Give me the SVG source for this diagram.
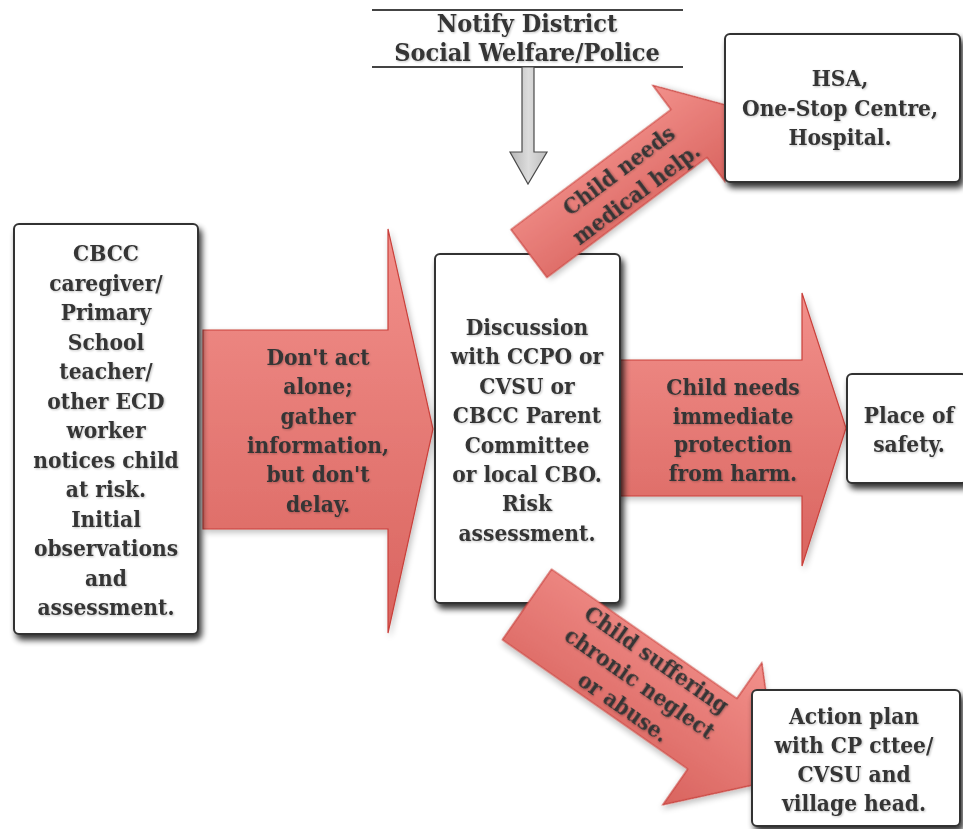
<svg xmlns="http://www.w3.org/2000/svg" width="963" height="829" viewBox="0 0 963 829">
<defs>
<linearGradient id="redGrad" x1="0" y1="0" x2="0" y2="1">
<stop offset="0" stop-color="#f2908b"/>
<stop offset="1" stop-color="#d9645f"/>
</linearGradient>
<linearGradient id="grayGrad" x1="0" y1="0" x2="1" y2="0">
<stop offset="0" stop-color="#b5b5b5"/>
<stop offset="0.5" stop-color="#dcdcdc"/>
<stop offset="1" stop-color="#bdbdbd"/>
</linearGradient>
<filter id="boxShadow" x="-10%" y="-10%" width="130%" height="130%">
<feGaussianBlur in="SourceAlpha" stdDeviation="3"/>
<feOffset dx="3" dy="5" result="b"/>
<feComponentTransfer><feFuncA type="linear" slope="0.8"/></feComponentTransfer>
<feMerge><feMergeNode/><feMergeNode in="SourceGraphic"/></feMerge>
</filter>
<filter id="arrowShadow" x="-10%" y="-10%" width="130%" height="130%">
<feGaussianBlur in="SourceAlpha" stdDeviation="3"/>
<feOffset dx="2" dy="3" result="b"/>
<feComponentTransfer><feFuncA type="linear" slope="0.25"/></feComponentTransfer>
<feMerge><feMergeNode/><feMergeNode in="SourceGraphic"/></feMerge>
</filter>
<filter id="textShadow" x="-5%" y="-5%" width="110%" height="120%">
<feGaussianBlur in="SourceAlpha" stdDeviation="0.8"/>
<feOffset dx="0.8" dy="1" result="b"/>
<feComponentTransfer><feFuncA type="linear" slope="0.25"/></feComponentTransfer>
<feMerge><feMergeNode/><feMergeNode in="SourceGraphic"/></feMerge>
</filter>
</defs>
<style>
.box{fill:#ffffff;stroke:#333333;stroke-width:2;filter:url(#boxShadow)}
.red{fill:url(#redGrad);stroke:#c9403b;stroke-width:1.2;filter:url(#arrowShadow)}
.gray{fill:url(#grayGrad);stroke:#4a4a4a;stroke-width:1.2}
.rule{stroke:#444444;stroke-width:2}
text{font-family:"DejaVu Serif Condensed","DejaVu Serif","Liberation Serif",serif;font-weight:bold;font-size:22.5px;fill:#363636;text-anchor:middle;filter:url(#textShadow)}
.big{font-size:25px}
</style>

<g id="notify">
<line class="rule" x1="372" y1="10" x2="683" y2="10"/>
<line class="rule" x1="372" y1="67" x2="683" y2="67"/>
<text class="big" x="527" y="32">Notify District</text>
<text class="big" x="527" y="61">Social Welfare/Police</text>
</g>

<g id="connectors">
<polygon id="arrow-notify" class="gray" points="522,67 534,67 534,152 547,152 528,184 510,152 522,152"/>
<g id="arrow-dontact">
<polygon class="red" points="203,330 388,330 388,229 433,429 388,633 388,529 203,529"/>
<text x="318" y="365">Don't act<tspan x="318" dy="29.3">alone;</tspan><tspan x="318" dy="29.3">gather</tspan><tspan x="318" dy="29.3">information,</tspan><tspan x="318" dy="29.3">but don't</tspan><tspan x="318" dy="29.3">delay.</tspan></text>
</g>
<g id="arrow-protection">
<polygon class="red" points="619,360 802,360 802,293 846,428 802,566 802,496 619,496"/>
<text x="733" y="395">Child needs<tspan x="733" dy="28.7">immediate</tspan><tspan x="733" dy="28.7">protection</tspan><tspan x="733" dy="28.7">from harm.</tspan></text>
</g>
</g>

<g id="node-observer">
<rect class="box" x="14" y="224" width="184" height="410" rx="5"/>
<text x="106" y="261">CBCC<tspan x="106" dy="29.5">caregiver/</tspan><tspan x="106" dy="29.5">Primary</tspan><tspan x="106" dy="29.5">School</tspan><tspan x="106" dy="29.5">teacher/</tspan><tspan x="106" dy="29.5">other ECD</tspan><tspan x="106" dy="29.5">worker</tspan><tspan x="106" dy="29.5">notices child</tspan><tspan x="106" dy="29.5">at risk.</tspan><tspan x="106" dy="29.5">Initial</tspan><tspan x="106" dy="29.5">observations</tspan><tspan x="106" dy="29.5">and</tspan><tspan x="106" dy="29.5">assessment.</tspan></text>
</g>

<g id="node-discussion">
<rect class="box" x="435" y="254" width="185" height="349" rx="5"/>
<text x="527" y="335">Discussion<tspan x="527" dy="29.4">with CCPO or</tspan><tspan x="527" dy="29.4">CVSU or</tspan><tspan x="527" dy="29.4">CBCC Parent</tspan><tspan x="527" dy="29.4">Committee</tspan><tspan x="527" dy="29.4">or local CBO.</tspan><tspan x="527" dy="29.4">Risk</tspan><tspan x="527" dy="29.4">assessment.</tspan></text>
</g>

<g id="arrow-medical">
<g transform="translate(529,253.5) rotate(-36.87)">
<polygon class="red" points="0,-30 200,-30 200,-60 247,0 200,60 200,30 0,30"/>
</g>
<g transform="translate(627,181.5) rotate(-36.87)">
<text x="0" y="-6.5">Child needs</text>
<text x="0" y="22.5">medical help.</text>
</g>
</g>

<g id="node-hsa">
<rect class="box" x="725" y="34" width="235" height="148" rx="5"/>
<text x="840" y="86">HSA,<tspan x="840" dy="29.5">One-Stop Centre,</tspan><tspan x="840" dy="29.5">Hospital.</tspan></text>
</g>

<g id="node-safety">
<rect class="box" x="847" y="374" width="120" height="109" rx="5"/>
<text x="909" y="423">Place of<tspan x="909" dy="29">safety.</tspan></text>
</g>

<g id="arrow-neglect">
<g transform="translate(527,604.5) rotate(34.9)">
<polygon class="red" points="0,-43 226,-43 226,-86.5 306,0 226,86.5 226,43 0,43"/>
</g>
<g transform="translate(640,683) rotate(34.9)">
<text x="0" y="-21">Child suffering</text>
<text x="0" y="8">chronic neglect</text>
<text x="0" y="37">or abuse.</text>
</g>
</g>

<g id="node-action">
<rect class="box" x="752" y="690" width="208" height="136" rx="5"/>
<text x="854" y="724">Action plan<tspan x="854" dy="29">with CP cttee/</tspan><tspan x="854" dy="29">CVSU and</tspan><tspan x="854" dy="29">village head.</tspan></text>
</g>
</svg>
